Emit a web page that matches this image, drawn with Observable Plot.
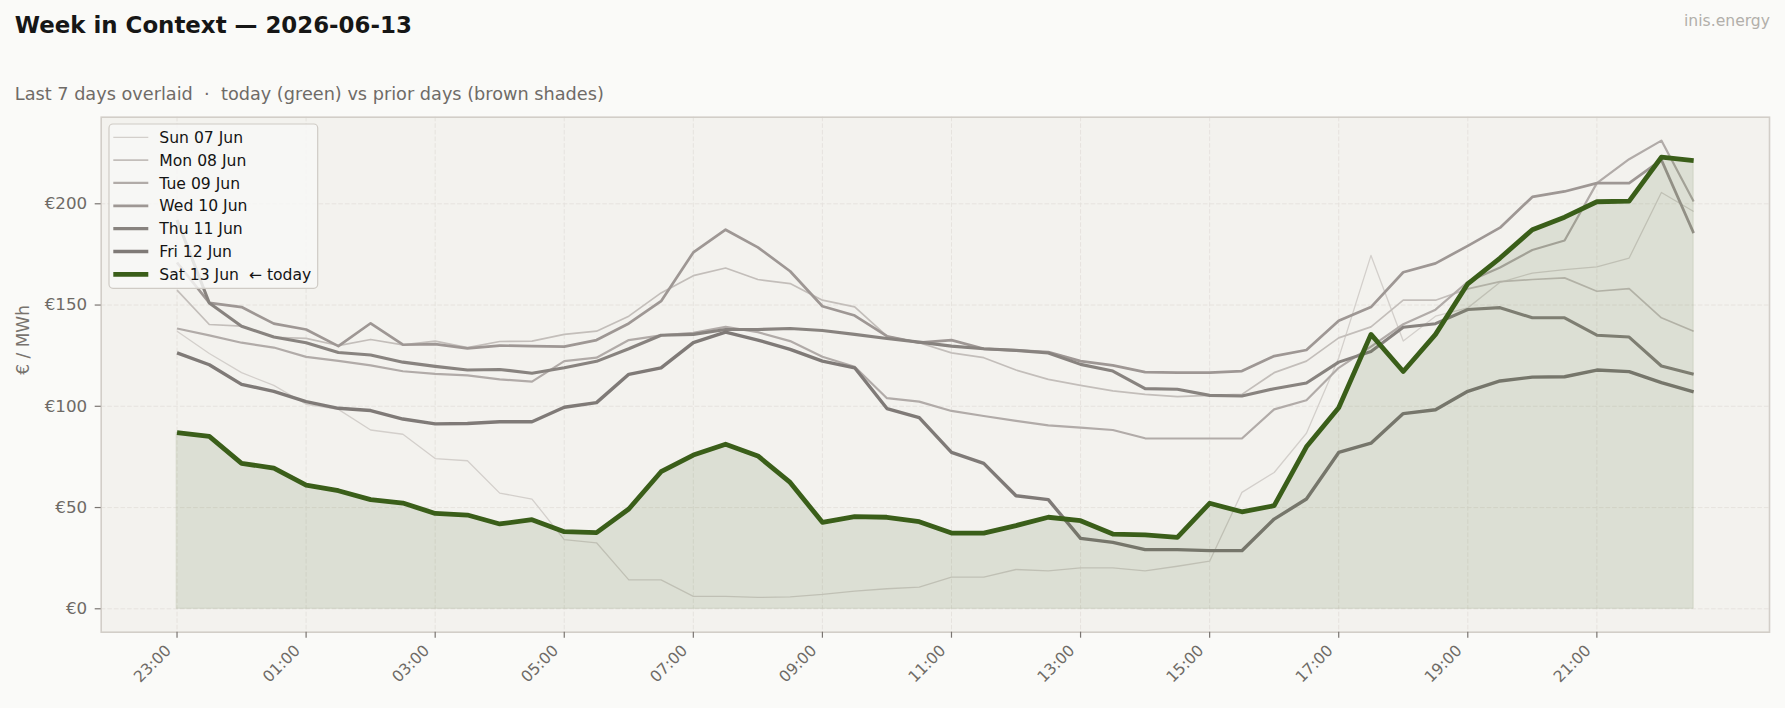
<!DOCTYPE html>
<html>
<head>
<meta charset="utf-8">
<script src="https://cdn.jsdelivr.net/npm/d3@7"></script>
<script src="https://cdn.jsdelivr.net/npm/@observablehq/plot@0.6"></script>
<style>
  html, body { margin: 0; padding: 0; background: #fafaf8; }
  body { width: 1785px; height: 708px; overflow: hidden; font-family: "DejaVu Sans", sans-serif; }
  #header, #chart svg { display: block; }
  text { white-space: pre; }
</style>
</head>
<body>
<svg id="header" width="1785" height="106"></svg>
<div id="chart"></div>
<script>
// Half-hour delivery slots, 23:00 → 22:30
const slots = ["23:00","23:30","00:00","00:30","01:00","01:30","02:00","02:30","03:00","03:30","04:00","04:30",
  "05:00","05:30","06:00","06:30","07:00","07:30","08:00","08:30","09:00","09:30","10:00","10:30",
  "11:00","11:30","12:00","12:30","13:00","13:30","14:00","14:30","15:00","15:30","16:00","16:30",
  "17:00","17:30","18:00","18:30","19:00","19:30","20:00","20:30","21:00","21:30","22:00","22:30"];
const tickSlots = ["23:00","01:00","03:00","05:00","07:00","09:00","11:00","13:00","15:00","17:00","19:00","21:00"];
const yTicks = [0, 50, 100, 150, 200];

const days = ["Sun 07 Jun","Mon 08 Jun","Tue 09 Jun","Wed 10 Jun","Thu 11 Jun","Fri 12 Jun","Sat 13 Jun"];

// €/MWh per slot
const sun07 = [137.1,126.1,116.6,110.3,101.0,98.5,88.3,86.2,74.2,73.1,57.1,54.2,
  34.2,32.6,14.3,14.3,6.1,6.1,5.6,5.9,7.1,8.7,9.9,10.7,
  15.6,15.6,19.4,18.7,20.2,20.2,18.7,21.0,23.5,57.5,67.3,86.7,
  123.9,174.5,132.2,144.5,148.6,161.2,165.8,167.5,168.8,173.2,205.6,196.2];
const mon08 = [157.4,140.4,139.6,134.1,133.5,130.0,133.0,130.3,132.2,129.0,132.0,132.2,
  135.5,137.1,144.5,156.0,164.5,168.3,162.6,160.6,152.4,149.1,134.6,131.4,
  126.4,124.0,117.9,113.3,110.3,107.6,105.9,104.8,105.4,105.9,116.6,122.3,
  133.8,139.2,152.4,152.4,158.0,161.6,162.6,163.4,156.8,158.1,143.7,137.1];
const tue09 = [138.4,135.0,131.4,129.0,124.4,122.4,120.2,117.3,116.0,115.3,113.3,112.2,
  122.3,124.0,132.7,135.0,136.3,139.2,136.6,132.2,124.5,119.5,104.0,102.3,
  97.7,95.2,92.8,90.6,89.5,88.3,84.2,84.1,84.1,84.1,98.5,103.0,
  119.0,129.5,140.5,147.7,161.5,168.5,177.2,181.9,210.2,222.0,231.2,201.1];
const wed10 = [171.0,151.1,149.0,140.8,137.9,129.7,141.0,130.4,130.7,128.6,130.0,129.7,
  129.5,132.7,140.9,151.9,176.0,187.2,178.5,166.7,149.4,144.8,134.6,131.4,
  132.7,128.4,127.6,126.8,122.3,120.2,116.9,116.6,116.6,117.4,124.8,127.8,
  142.2,149.0,166.2,170.6,179.2,188.2,203.4,206.1,210.2,210.2,221.7,185.5];
const thu11 = [192.0,151.0,139.5,134.2,131.4,126.6,125.3,121.8,119.7,117.9,118.2,116.3,
  119.0,122.2,128.4,135.1,135.5,137.9,137.9,138.4,137.4,135.5,133.5,131.7,
  129.7,128.4,127.6,126.3,120.7,117.4,108.7,108.4,105.4,105.1,108.7,111.5,
  121.8,127.1,139.0,140.8,147.8,148.7,143.7,143.7,135.1,134.2,119.9,115.8];
const fri12 = [126.4,120.5,110.8,107.4,102.3,99.0,97.9,93.7,91.3,91.5,92.4,92.4,
  99.5,101.8,115.8,119.0,131.4,136.6,132.7,128.1,122.3,119.0,98.9,94.4,
  77.2,71.8,55.8,53.9,34.8,32.8,29.2,29.2,28.7,28.7,44.3,54.2,
  77.2,81.8,96.4,98.3,107.4,112.5,114.4,114.6,117.9,117.1,111.7,107.1];
const sat13 = [87.0,85.1,71.8,69.5,61.1,58.3,53.9,52.2,47.1,46.3,41.9,44.0,
  38.1,37.6,49.3,67.7,75.9,81.3,75.5,62.4,42.7,45.5,45.2,43.0,
  37.4,37.4,41.1,45.2,43.5,36.9,36.5,35.3,52.1,47.9,50.9,80.0,
  99.3,135.5,117.2,135.5,160.5,173.2,187.2,193.4,201.0,201.3,223.0,221.3];

const series = [sun07, mon08, tue09, wed10, thu11, fri12, sat13];

// Styling: prior days in brown-grey shades that deepen towards today
const lineColors = ["#d3cfcb", "#c3beba", "#b1aba8", "#9e9794", "#88837f", "#7f7a77", "#3a5e19"];
const lineWidths = [1.3, 1.7, 2.2, 2.7, 3.1, 3.4, 4.8];
const todayGreen = "#3a5e19";
const ink = "#6e6a66";
const gridColor = "#e4e1dc";

const rows = series.map((vals, k) => vals.map((v, i) => ({day: days[k], i, v})));
const tickIdx = tickSlots.map(s => slots.indexOf(s));

// matplotlib-style 5% margins around the data extent
const nX = slots.length - 1;
const yMax = d3.max(series.flat());
const xDomain = [-0.05 * nX, nX * 1.05];
const yDomain = [-0.05 * yMax, yMax * 1.05];

// ---------- header ----------
const header = d3.select("#header");
header.append("text").attr("x", 14.8).attr("y", 33.3)
  .attr("font-size", 22.9).attr("font-weight", "bold").attr("fill", "#161616")
  .text("Week in Context — 2026-06-13");
header.append("text").attr("x", 14.8).attr("y", 100.3)
  .attr("font-size", 17.7).attr("fill", "#6f6b67")
  .text("Last 7 days overlaid  ·  today (green) vs prior days (brown shades)");
header.append("text").attr("x", 1770).attr("y", 25.8).attr("text-anchor", "end")
  .attr("font-size", 15.6).attr("fill", "#b2afaa")
  .text("inis.energy");

// ---------- chart ----------
const priorLines = rows.slice(0, 6).map((r, k) =>
  Plot.line(r, {x: "i", y: "v", stroke: lineColors[k], strokeWidth: lineWidths[k],
    strokeLinejoin: "round", strokeLinecap: "butt"}));

const chart = Plot.plot({
  width: 1785,
  height: 602,
  marginTop: 10.7,
  marginRight: 16,
  marginBottom: 76.3,
  marginLeft: 100.7,
  style: {background: "transparent", fontFamily: "DejaVu Sans, sans-serif"},
  x: {type: "linear", domain: xDomain, axis: null},
  y: {type: "linear", domain: yDomain, axis: null},
  marks: [
    Plot.frame({fill: "#f3f2ee", stroke: null}),
    Plot.gridY(yTicks, {stroke: gridColor, strokeOpacity: 1, strokeWidth: 0.9, strokeDasharray: "4.6,2"}),
    Plot.gridX(tickIdx, {stroke: gridColor, strokeOpacity: 1, strokeWidth: 0.9, strokeDasharray: "4.6,2"}),
    ...priorLines,
    Plot.areaY(rows[6], {x: "i", y: "v", fill: todayGreen, fillOpacity: 0.12,
      stroke: todayGreen, strokeOpacity: 0.12, strokeWidth: 1}),
    Plot.line(rows[6], {x: "i", y: "v", stroke: lineColors[6], strokeWidth: lineWidths[6],
      strokeLinejoin: "round", strokeLinecap: "butt"}),
    Plot.frame({stroke: "#d2cec8", strokeWidth: 1.6}),
    Plot.axisY(yTicks, {tickSize: 6, tickPadding: 8, tickFormat: d => "€" + d,
      fontSize: 16.7, fill: ink, stroke: "#7a7571", strokeWidth: 1.2, label: null}),
    Plot.axisX(tickIdx, {tickSize: 6, fill: "none", stroke: "#7a7571", strokeWidth: 1.2, label: null}),
    Plot.text(tickIdx, {x: d => d, frameAnchor: "bottom", dx: -5, dy: 19.3, rotate: -45,
      textAnchor: "end", text: d => slots[d], fontSize: 15.6, fill: ink}),
    Plot.text(["€ / MWh"], {frameAnchor: "left", dx: -77.4, rotate: -90,
      fontSize: 17, fill: "#78736e"})
  ]
});

document.getElementById("chart").appendChild(chart);

// ---------- legend (inside the plot, upper left) ----------
const lg = d3.select(chart).append("g").attr("font-size", 15.6).attr("text-anchor", "start");
lg.append("rect")
  .attr("x", 109).attr("y", 18).attr("width", 208.7).attr("height", 164.3).attr("rx", 4)
  .attr("fill", "#f8f8f6").attr("fill-opacity", 0.82)
  .attr("stroke", "#cfcbc5").attr("stroke-width", 1.2);
days.forEach((d, k) => {
  const y = 31.3 + 22.83 * k;
  lg.append("line").attr("x1", 113.3).attr("x2", 148.3).attr("y1", y).attr("y2", y)
    .attr("stroke", lineColors[k]).attr("stroke-width", lineWidths[k]);
  lg.append("text").attr("x", 159.3).attr("y", y).attr("dy", "0.36em").attr("fill", "#141414")
    .attr("text-anchor", "start")
    .text(k === days.length - 1 ? d + "  ← today" : d);
});
</script>
</body>
</html>
